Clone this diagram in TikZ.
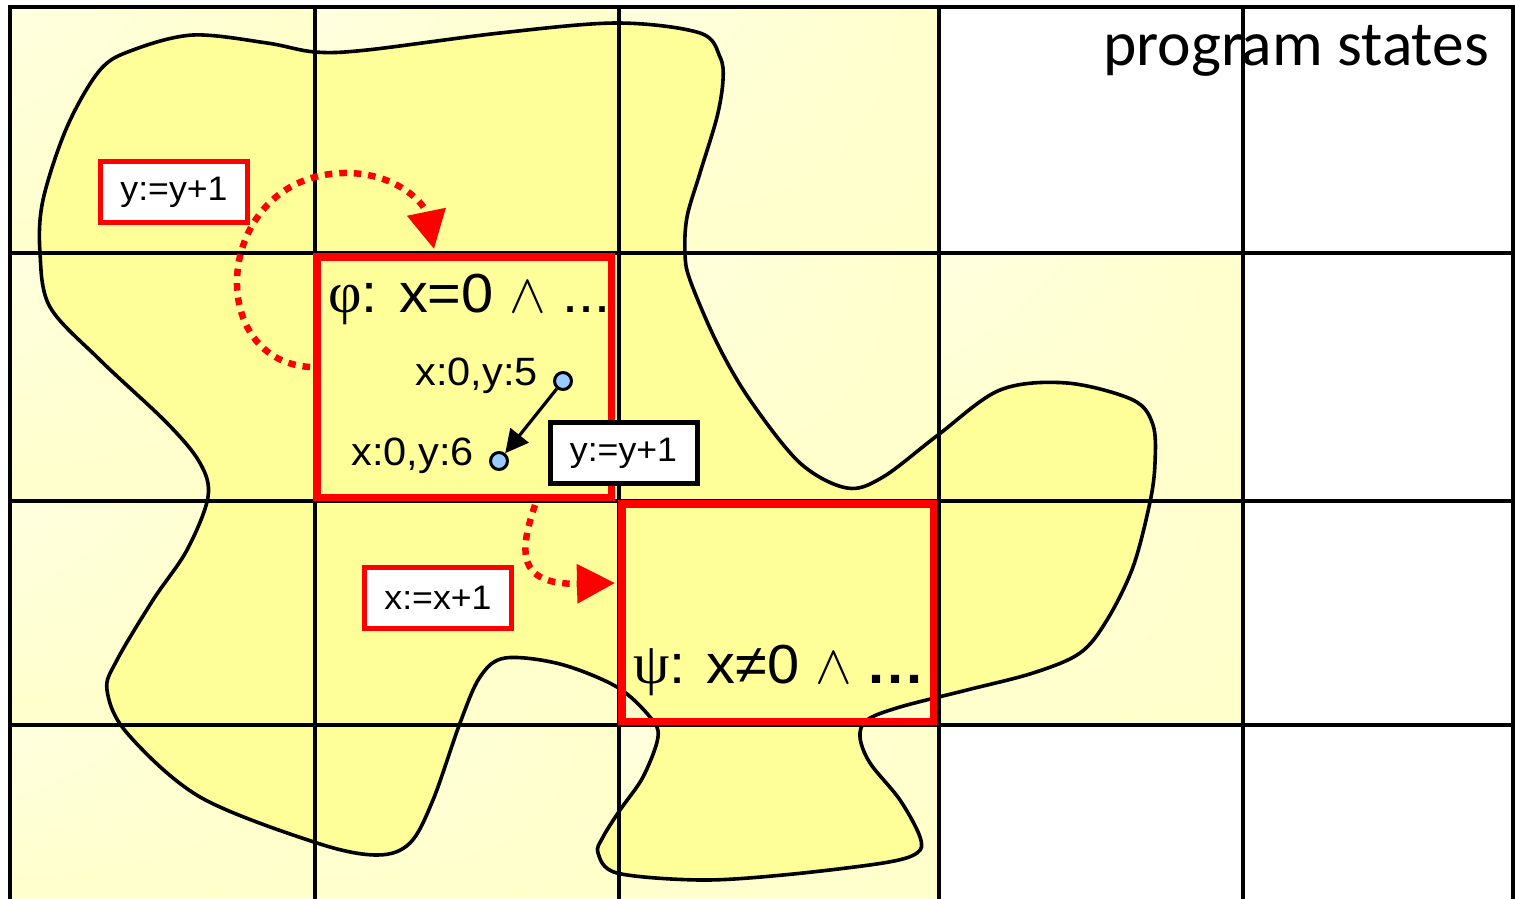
\documentclass[tikz,border=0pt]{standalone}
\usepackage{fix-cm}
\usepackage{fontspec}
\usetikzlibrary{arrows.meta,shadings}
\newfontfamily\calfont{Carlito}
\newfontfamily\arfont[FakeStretch=1.05]{Liberation Sans}
\newfontfamily\tmfont{Liberation Serif}
\definecolor{cellY}{RGB}{255,255,204}
\definecolor{cellL}{RGB}{255,255,224}
\definecolor{blobY}{RGB}{255,255,153}
\definecolor{dotB}{RGB}{153,204,255}
\newcommand\opfont{\arfont\fontsize{34}{40}\selectfont}
\newcommand\stfont{\arfont\fontsize{39.5}{46}\selectfont}
\newcommand\bigfont{\arfont\fontsize{55}{64}\selectfont}
\begin{document}
\begin{tikzpicture}[x=1pt,y=-1pt,
  cell/.style={upper left=cellL,upper right=cellY,lower left=cellY,lower right=cellY},
  gridline/.style={line width=4.2pt,black},
  blob/.style={fill=blobY,draw=black,line width=3.6pt},
  statebox/.style={draw=red,line width=7.5pt,inner sep=0pt},
  opbox/.style={draw=#1,fill=white,line width=5pt,inner sep=0pt,minimum width=147pt,minimum height=61pt,font=\opfont},
  redarrow/.style={draw=red,line width=6.5pt,dash pattern=on 7.5pt off 7pt,-{Triangle[length=38pt,width=38pt]}},
  statedot/.style={circle,draw=black,fill=dotB,line width=3pt,minimum size=17pt,inner sep=0pt}
]
\useasboundingbox (0,0) rectangle (1515,899);
% shaded cells
\foreach \xa/\xb in {10/315,315/619,619/939}{
  \shade[cell] (\xa,7) rectangle (\xb,253);
  \shade[cell] (\xa,725) rectangle (\xb,899);
}
\foreach \xa/\xb in {10/315,315/619,619/939,939/1243}{
  \shade[cell] (\xa,253) rectangle (\xb,501);
  \shade[cell] (\xa,501) rectangle (\xb,725);
}
% blob
\draw[blob] plot[smooth cycle,tension=0.55] coordinates {
 (193,35) (267,43) (315,52) (367,50) (500,33) (617,23) (700,33) (720,57) (723,80)
 (717,117) (700,173) (687,217) (685,253) (690,280) (717,343) (750,400) (800,463)
 (847,488) (883,477) (938,435) (1000,390) (1067,383) (1133,400) (1153,425) (1155,463)
 (1150,502) (1133,567) (1107,620) (1080,653) (1033,673) (967,690) (900,707) (867,720)
 (860,737) (870,763) (900,800) (920,837) (917,853) (883,863) (783,875) (700,880)
 (617,873) (598,853) (603,837) (620,810) (643,777) (658,737) (650,717) (617,687)
 (560,664) (505,658) (480,677) (460,723) (433,800) (410,843) (377,855) (317,843)
 (200,797) (127,733) (107,690) (117,660) (153,600) (187,550) (208,497) (200,463)
 (167,423) (100,360) (50,307) (40,253) (43,200) (67,127) (100,70) (133,50)};
% grid
\draw[gridline] (10,899) -- (10,7) -- (1513,7) -- (1513,899);
\foreach \x in {315,619,939,1243} \draw[gridline] (\x,7) -- (\x,899);
\foreach \y in {253,501,725} \draw[gridline] (10,\y) -- (1513,\y);
% title
\node[anchor=base east,inner sep=0pt,font=\calfont\fontsize{63.5}{70}\selectfont] (title) at (1489,66) {program states};
% state boxes
\node[statebox,minimum width=294.5pt,minimum height=240.5pt] (phi) at (464,377) {};
\node[statebox,minimum width=311.5pt,minimum height=217.5pt] (psi) at (777.5,612.5) {};
% red dotted arrows
\coordinate (a1s) at (310,367);
\coordinate (a1e) at (434,249);
\draw[redarrow] (a1s) .. controls (200,360) and (215,170) .. (350,173) .. controls (400,175) and (425,205) .. (a1e);
\coordinate (a2s) at (535,505);
\coordinate (a2e) at (615,583);
\draw[redarrow] (a2s) .. controls (520,550) and (515,585) .. (a2e);
% formulas
\node[anchor=base west,inner sep=0pt,font=\bigfont] (phitxt) at (328,312) {{\tmfont\fontsize{58}{60}\selectfont φ}: x=0 $\wedge$ ...};
\node[anchor=base west,inner sep=0pt,font=\bigfont] (psitxt) at (633,683) {{\tmfont\fontsize{58}{60}\selectfont ψ}: x≠0 $\wedge$ {\bfseries .\kern3pt.\kern3pt.}};
% concrete states
\node[anchor=base east,inner sep=0pt,font=\stfont] (s1) at (538,385) {x:0,y:5};
\node[anchor=base east,inner sep=0pt,font=\stfont] (s2) at (474,465) {x:0,y:6};
\node[statedot] (d1) at (563,381) {};
\node[statedot] (d2) at (499,461) {};
\draw[line width=3.2pt,-{Triangle[length=23pt,width=23pt]}] (d1) -- (d2);
% operation boxes
\node[opbox=red] (op1) at (174,192) {y:=y+1};
\node[opbox=black] (op2) at (623.5,453) {y:=y+1};
\node[opbox=red] (op3) at (438,598) {x:=x+1};
\end{tikzpicture}
\end{document}
